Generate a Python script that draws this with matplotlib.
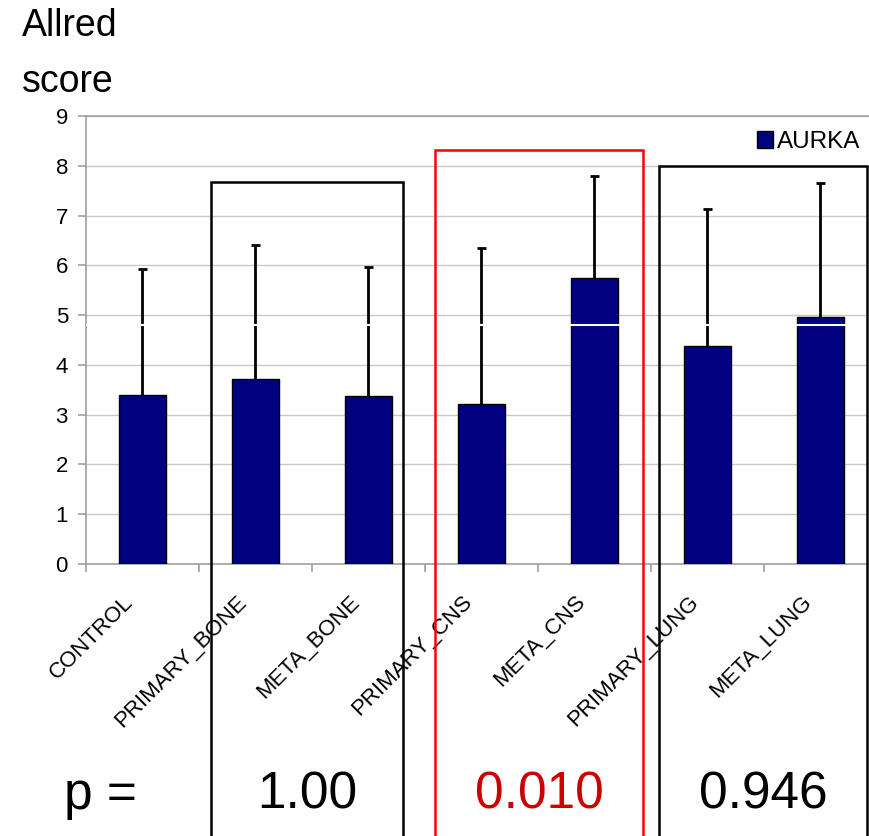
"""Allred score AURKA bar chart with p-value boxes"""
import matplotlib.pyplot as plt
from matplotlib.patches import Rectangle
from matplotlib.transforms import ScaledTranslation

plt.rcParams['font.family'] = ['Liberation Sans', 'DejaVu Sans']

categories = ['CONTROL', 'PRIMARY_BONE', 'META_BONE', 'PRIMARY_CNS',
              'META_CNS', 'PRIMARY_LUNG', 'META_LUNG']
means = [3.39, 3.71, 3.37, 3.21, 5.74, 4.38, 4.96]
upper = [5.92, 6.41, 5.96, 6.34, 7.79, 7.13, 7.65]

# comparison boxes: (left, right, top) in data units, p text, colour
box_left = [0.606, 2.59, 4.57]
box_right = [2.305, 4.43, 6.41]
box_top = [7.67, 8.31, 7.99]
p_values = ['1.00', '0.010', '0.946']
box_colors = ['black', 'red', 'black']
p_colors = ['black', '#cc0000', 'black']
p_label = 'p ='

fig = plt.figure(figsize=(8.7, 8.36), dpi=100)
ax = fig.add_axes([86 / 870, (836 - 564) / 836, 791 / 870, 448 / 836])

x = list(range(len(categories)))
ax.bar(x, means, width=0.41, color='#000080', edgecolor='black',
       linewidth=1, zorder=3, label='AURKA')
# upper-only error bars
ax.vlines(x, means, upper, color='black', linewidth=2, zorder=4)
ax.hlines(upper, [i - 0.042 for i in x], [i + 0.042 for i in x],
          color='black', linewidth=2, zorder=4)

ax.set_xlim(-0.5, len(categories) - 0.5)
ax.set_ylim(0, 9)
ax.set_yticks(range(10))
ax.yaxis.grid(True, color='#c8c8c8', linewidth=1, zorder=0)
ax.set_axisbelow(True)
for side in ['left', 'bottom', 'top']:
    ax.spines[side].set_color('#a0a0a0')
    ax.spines[side].set_linewidth(1.2)
ax.spines['right'].set_visible(False)
ax.tick_params(axis='y', colors='#a0a0a0', labelcolor='black', labelsize=16,
               length=6, width=1.2, pad=7)

ax.set_xticks(x)
ax.set_xticklabels(categories, rotation=45, ha='right', va='top',
                   rotation_mode='anchor', fontsize=16)
ax.tick_params(axis='x', length=0, pad=14)
shift = ScaledTranslation(-0.2, -0.08, fig.dpi_scale_trans)
for lab in ax.get_xticklabels():
    lab.set_transform(lab.get_transform() + shift)
ax.set_xticks([i - 0.5 for i in range(len(categories) + 1)], minor=True)
ax.tick_params(axis='x', which='minor', colors='#a0a0a0', length=6, width=1.2)

# scan artefact: thin white line through bars
ax.axhline(4.8, color='white', linewidth=1.5, zorder=5)

for left, right, top, p, bc, pc in zip(box_left, box_right, box_top,
                                       p_values, box_colors, p_colors):
    ax.add_patch(Rectangle((left, -7), right - left, top + 7, fill=False,
                           edgecolor=bc, linewidth=1.8, clip_on=False, zorder=6))
    ax.annotate(p, xy=((left + right) / 2, 0), xycoords=('data', 'axes fraction'),
                xytext=(0, 1 - 795 / 836), textcoords=('offset points', 'figure fraction'),
                fontsize=37, color=pc, ha='center', va='center')

fig.text(100 / 870, 1 - 795 / 836, p_label, fontsize=37, ha='center', va='center')

fig.text(22 / 870, 1 - 36 / 836, 'Allred', fontsize=27, ha='left', va='baseline')
fig.text(22 / 870, 1 - 92 / 836, 'score', fontsize=27, ha='left', va='baseline')

fig.legend(loc='center right', bbox_to_anchor=(860 / 870, 1 - 142 / 836),
           frameon=False, fontsize=17.5, handlelength=0.65, handleheight=0.65,
           handletextpad=0.15, borderpad=0, borderaxespad=0)

fig.savefig('out.png', dpi=100)
